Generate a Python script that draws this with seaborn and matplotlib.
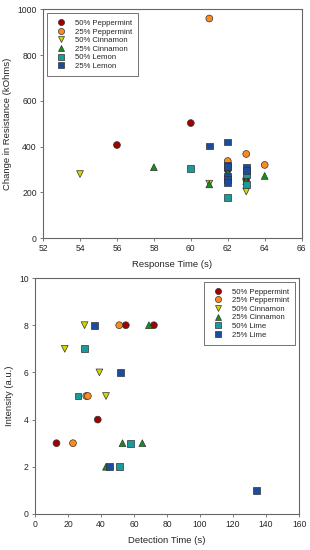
import matplotlib
matplotlib.use("Agg")
import matplotlib.pyplot as plt
import pandas as pd
import seaborn as sns

# top panel: response time vs change in resistance
top_series = ["50% Peppermint", "25% Peppermint", "50% Cinnamon",
              "25% Cinnamon", "50% Lemon", "25% Lemon"]
top_x = {
    "50% Peppermint": [56, 60, 62, 63],
    "25% Peppermint": [61, 62, 63, 64],
    "50% Cinnamon": [54, 61, 63],
    "25% Cinnamon": [58, 61, 62, 63, 64],
    "50% Lemon": [60, 62, 63, 63],
    "25% Lemon": [61, 62, 62, 62, 62, 62, 62, 63, 63],
}
top_y = {
    "50% Peppermint": [407, 503, 298, 258],
    "25% Peppermint": [960, 337, 368, 320],
    "50% Cinnamon": [280, 238, 204],
    "25% Cinnamon": [310, 235, 286, 249, 272],
    "50% Lemon": [305, 176, 276, 233],
    "25% Lemon": [403, 420, 320, 312, 268, 256, 244, 308, 294],
}

# bottom panel: detection time vs intensity
bot_series = ["50% Peppermint", "25% Peppermint", "50% Cinnamon",
              "25% Cinnamon", "50% Lime", "25% Lime"]
bot_x = {
    "50% Peppermint": [13, 38, 55, 72],
    "25% Peppermint": [23, 31, 32, 51],
    "50% Cinnamon": [18, 30, 39, 43],
    "25% Cinnamon": [43, 53, 65, 69],
    "50% Lime": [26, 30, 51, 58],
    "25% Lime": [36, 45, 52, 134],
}
bot_y = {
    "50% Peppermint": [3, 4, 8, 8],
    "25% Peppermint": [3, 5, 5, 8],
    "50% Cinnamon": [7, 8, 6, 5],
    "25% Cinnamon": [2, 3, 3, 8],
    "50% Lime": [5, 7, 2, 3],
    "25% Lime": [8, 2, 6, 1],
}

colors = ["#a00000", "#ff8a1c", "#d6d600", "#14901a", "#1a9a9a", "#1a4da0"]
markers = ["o", "o", "v", "^", "s", "s"]


def to_frame(names, xs, ys):
    rows = []
    for n in names:
        for x, y in zip(xs[n], ys[n]):
            rows.append({"x": x, "y": y, "series": n})
    return pd.DataFrame(rows)


sns.set_style("ticks")
plt.rcParams["font.family"] = ["Liberation Sans", "DejaVu Sans"]

fig = plt.figure(figsize=(3.1, 5.5), dpi=100)
ax1 = fig.add_axes([0.139, 0.567, 0.834, 0.416])
ax2 = fig.add_axes([0.113, 0.0655, 0.852, 0.429])

panels = [
    (ax1, top_series, to_frame(top_series, top_x, top_y), "upper left"),
    (ax2, bot_series, to_frame(bot_series, bot_x, bot_y), "upper right"),
]
for ax, names, df, loc in panels:
    sns.scatterplot(
        data=df, x="x", y="y", hue="series", style="series",
        hue_order=names, style_order=names,
        palette=dict(zip(names, colors)), markers=dict(zip(names, markers)),
        s=24, edgecolor="#333333", linewidth=0.5, ax=ax, legend=True,
    )
    leg = ax.legend(loc=loc, fontsize=5.6, frameon=True, fancybox=False,
                    edgecolor="#333333", handletextpad=0.8, labelspacing=0.15,
                    borderpad=0.8, markerscale=0.9)
    leg.get_frame().set_linewidth(0.6)
    for sp in ax.spines.values():
        sp.set_color("#666666")
        sp.set_linewidth(0.8)
    ax.tick_params(labelsize=6.2, length=2.5, width=0.6, color="#666666", pad=2)

ax1.set_xlim(52, 66)
ax1.set_ylim(0, 1000)
ax1.set_xticks(range(52, 67, 2))
ax1.set_yticks(range(0, 1001, 200))
ax1.set_xlabel("Response Time (s)", fontsize=6.8, labelpad=5)
ax1.set_ylabel("Change in Resistance (kOhms)", fontsize=6.8, labelpad=4)

ax2.set_xlim(0, 160)
ax2.set_ylim(0, 10)
ax2.set_xticks(range(0, 161, 20))
ax2.set_yticks(range(0, 11, 2))
ax2.set_xlabel("Detection Time (s)", fontsize=6.8, labelpad=5)
ax2.set_ylabel("Intensity (a.u.)", fontsize=6.8, labelpad=4)

fig.savefig("out.png", dpi=100)
plt.close(fig)
